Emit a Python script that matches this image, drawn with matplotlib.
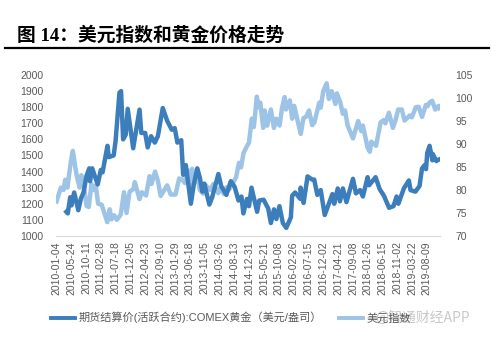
import numpy as np
import matplotlib
matplotlib.use("Agg")
import matplotlib.pyplot as plt
from matplotlib.lines import Line2D

plt.rcParams['font.family'] = ['Liberation Sans', 'Noto Sans CJK SC']

# category labels on the x axis (every 100 trading days)
tick_labels = ['2010-01-04', '2010-05-24', '2010-10-11', '2011-02-28', '2011-07-18',
               '2011-12-05', '2012-04-23', '2012-09-10', '2013-01-29', '2013-06-18',
               '2013-11-05', '2014-03-26', '2014-08-13', '2014-12-31', '2015-05-21',
               '2015-10-08', '2016-02-26', '2016-07-15', '2016-12-02', '2017-04-21',
               '2017-09-08', '2018-01-26', '2018-06-15', '2018-11-02', '2019-03-22',
               '2019-08-09']

gold_dates = ['2010-04-06', '2010-04-20', '2010-05-12', '2010-05-25', '2010-06-18', '2010-07-28',
              '2010-08-20', '2010-09-15', '2010-10-14', '2010-11-09', '2010-11-16', '2010-12-07',
              '2011-01-27', '2011-02-25', '2011-03-15', '2011-04-29', '2011-05-12', '2011-06-28',
              '2011-07-15', '2011-08-22', '2011-09-06', '2011-09-26', '2011-10-20', '2011-11-08',
              '2011-12-29', '2012-02-28', '2012-03-15', '2012-04-20', '2012-05-15', '2012-06-15',
              '2012-07-20', '2012-08-20', '2012-10-04', '2012-11-15', '2012-12-28', '2013-01-25',
              '2013-02-20', '2013-03-28', '2013-04-16', '2013-05-10', '2013-06-27', '2013-07-25',
              '2013-08-27', '2013-09-19', '2013-10-15', '2013-11-01', '2013-12-19', '2014-01-15',
              '2014-03-14', '2014-04-10', '2014-05-29', '2014-07-10', '2014-08-15', '2014-09-20',
              '2014-10-20', '2014-11-06', '2014-12-10', '2014-12-30', '2015-01-22', '2015-03-17',
              '2015-04-06', '2015-05-18', '2015-06-30', '2015-07-24', '2015-08-24', '2015-09-15',
              '2015-10-14', '2015-11-15', '2015-12-17', '2016-01-29', '2016-02-11', '2016-03-10',
              '2016-04-28', '2016-05-02', '2016-05-30', '2016-07-06', '2016-08-18', '2016-09-07',
              '2016-10-06', '2016-11-08', '2016-12-15', '2017-02-27', '2017-03-15', '2017-04-18',
              '2017-05-09', '2017-06-06', '2017-07-10', '2017-09-08', '2017-10-06', '2017-11-15',
              '2017-12-12', '2018-01-25', '2018-02-08', '2018-04-11', '2018-05-21', '2018-06-28',
              '2018-08-16', '2018-09-27', '2018-10-26', '2018-11-13', '2019-01-03', '2019-02-20',
              '2019-03-07', '2019-04-23', '2019-05-31', '2019-06-25', '2019-07-18', '2019-08-01',
              '2019-08-13', '2019-09-04', '2019-10-01', '2019-10-03', '2019-11-07', '2019-11-14',
              '2019-12-03']
gold_values = [1150, 1140, 1240, 1190, 1270, 1160,
               1230, 1270, 1375, 1420, 1340, 1420,
               1320, 1410, 1395, 1560, 1490, 1500,
               1590, 1890, 1900, 1600, 1630, 1790,
               1545, 1785, 1640, 1640, 1550, 1620,
               1580, 1620, 1795, 1715, 1660, 1670,
               1580, 1595, 1380, 1440, 1200, 1320,
               1420, 1365, 1275, 1325, 1195, 1240,
               1385, 1310, 1255, 1340, 1305, 1220,
               1245, 1140, 1230, 1185, 1300, 1150,
               1220, 1225, 1170, 1080, 1165, 1105,
               1185, 1080, 1050, 1115, 1250, 1270,
               1230, 1300, 1205, 1370, 1350, 1350,
               1255, 1285, 1130, 1260, 1200, 1295,
               1215, 1295, 1210, 1355, 1265, 1285,
               1245, 1365, 1315, 1365, 1290, 1250,
               1175, 1185, 1245, 1200, 1295, 1345,
               1285, 1275, 1310, 1420, 1440, 1415,
               1515, 1560, 1470, 1510, 1465, 1470,
               1475]

usd_dates = ['2010-01-04', '2010-01-29', '2010-02-12', '2010-03-10', '2010-03-25', '2010-04-15',
             '2010-05-20', '2010-06-07', '2010-06-25', '2010-07-15', '2010-08-10', '2010-08-25',
             '2010-09-15', '2010-10-14', '2010-11-04', '2010-11-30', '2010-12-20', '2011-01-10',
             '2011-02-01', '2011-03-07', '2011-04-28', '2011-05-20', '2011-06-07', '2011-07-01',
             '2011-07-27', '2011-08-15', '2011-09-02', '2011-10-04', '2011-10-27', '2011-11-25',
             '2011-12-30', '2012-01-13', '2012-02-28', '2012-03-20', '2012-04-30', '2012-06-01',
             '2012-06-20', '2012-07-24', '2012-08-20', '2012-09-14', '2012-10-15', '2012-11-15',
             '2012-12-19', '2013-02-01', '2013-03-08', '2013-04-05', '2013-05-01', '2013-05-29',
             '2013-06-17', '2013-07-09', '2013-07-25', '2013-08-30', '2013-09-19', '2013-10-24',
             '2013-11-07', '2013-12-27', '2014-01-27', '2014-02-25', '2014-03-13', '2014-04-02',
             '2014-05-07', '2014-05-30', '2014-06-25', '2014-07-31', '2014-08-29', '2014-09-25',
             '2014-10-15', '2014-11-07', '2014-12-08', '2014-12-30', '2015-01-26', '2015-02-13',
             '2015-03-13', '2015-04-01', '2015-04-15', '2015-05-13', '2015-05-27', '2015-06-19',
             '2015-07-24', '2015-08-24', '2015-09-15', '2015-10-15', '2015-11-06', '2015-12-02',
             '2015-12-15', '2016-01-20', '2016-02-11', '2016-03-02', '2016-04-12', '2016-05-03',
             '2016-05-27', '2016-06-24', '2016-07-20', '2016-08-18', '2016-09-08', '2016-10-25',
             '2016-11-08', '2016-12-01', '2017-01-03', '2017-01-24', '2017-02-20', '2017-03-27',
             '2017-04-10', '2017-05-12', '2017-06-05', '2017-06-26', '2017-07-20', '2017-09-08',
             '2017-10-27', '2017-11-27', '2017-12-12', '2018-01-25', '2018-02-15', '2018-03-01',
             '2018-04-16', '2018-05-29', '2018-06-27', '2018-07-12', '2018-08-15', '2018-09-21',
             '2018-10-15', '2018-11-12', '2018-12-14', '2019-01-10', '2019-02-28', '2019-03-20',
             '2019-04-26', '2019-05-23', '2019-06-25', '2019-07-31', '2019-08-15', '2019-09-03',
             '2019-09-30', '2019-10-28', '2019-11-28', '2019-12-06']
usd_values = [77.5, 79.5, 80.5, 80.0, 82.2, 80.5,
              86.5, 88.5, 85.5, 82.8, 80.5, 83.2,
              81.5, 76.5, 76.3, 81.3, 80.0, 81.0,
              77.0, 76.8, 73.0, 75.8, 73.6, 74.5,
              73.5, 74.0, 74.7, 79.5, 75.0, 79.6,
              80.2, 81.7, 78.0, 79.5, 78.8, 83.0,
              81.3, 84.0, 82.0, 78.7, 79.8, 81.0,
              79.0, 79.0, 82.5, 82.3, 81.5, 84.3,
              80.5, 84.6, 81.5, 82.5, 80.0, 79.2,
              81.2, 80.0, 81.3, 80.0, 79.3, 80.5,
              79.1, 80.6, 80.1, 81.5, 82.8, 85.9,
              84.9, 88.0, 89.4, 90.3, 95.5, 93.7,
              100.3, 98.0, 99.0, 93.5, 97.3, 94.0,
              97.5, 93.5, 95.5, 94.0, 97.8, 100.2,
              97.5, 99.5, 95.5, 98.3, 94.2, 92.2,
              95.6, 96.0, 97.3, 94.1, 94.7, 99.0,
              97.9, 101.5, 103.2, 99.8, 101.5, 98.7,
              101.0, 99.0, 96.6, 97.3, 94.0, 91.2,
              95.0, 92.8, 94.0, 89.2, 88.3, 90.5,
              89.6, 94.7, 95.2, 94.5, 96.8, 93.5,
              95.0, 97.5, 97.5, 95.1, 96.2, 95.8,
              98.0, 98.1, 95.9, 98.5, 98.2, 99.0,
              99.4, 97.5, 98.3, 97.8]

start = '2010-01-04'
gold_x = np.busday_count(start, np.array(gold_dates, dtype='datetime64[D]'))
usd_x = np.busday_count(start, np.array(usd_dates, dtype='datetime64[D]'))
tick_x = np.busday_count(start, np.array(tick_labels, dtype='datetime64[D]'))

dark = '#3C7DBB'
light = '#9DC3E6'
grey = '#595959'

fig = plt.figure(figsize=(4.91, 3.38), dpi=100)
ax = fig.add_axes([0.114, 0.302, 0.782, 0.476])
ax2 = ax.twinx()

ax.plot(gold_x, gold_values, color=dark, lw=3.2, solid_joinstyle='round', zorder=3)
ax2.plot(usd_x, usd_values, color=light, lw=3.2, solid_joinstyle='round')
ax.set_zorder(ax2.get_zorder() + 1)
ax.patch.set_visible(False)

ax.set_xlim(-4, 2592)
ax.set_ylim(1000, 2000)
ax.set_yticks(np.arange(1000, 2001, 100))
ax2.set_ylim(70, 105)
ax2.set_yticks(np.arange(70, 106, 5))
ax.set_xticks(tick_x)
ax.set_xticklabels(tick_labels, rotation=90, fontsize=7.5, color=grey)

for a in (ax, ax2):
    for s in a.spines.values():
        s.set_visible(False)
    a.tick_params(length=0, labelsize=7.5, labelcolor=grey)
ax.spines['bottom'].set_visible(True)
ax.spines['bottom'].set_color('#D9D9D9')
ax.tick_params(axis='y', pad=9)
ax2.tick_params(axis='y', pad=11)
ax.tick_params(axis='x', pad=4)

fig.text(0.035, 0.895, '图 14：美元指数和黄金价格走势', fontsize=13.5, fontweight='bold',
         family=['Liberation Serif', 'Noto Sans CJK SC'], va='center')
fig.add_artist(Line2D([0.01, 0.995], [0.858, 0.858], color='black', lw=1.6))

handles = [Line2D([], [], color=dark, lw=2.8), Line2D([], [], color=light, lw=2.8)]
fig.legend(handles, ['期货结算价(活跃合约):COMEX黄金（美元/盎司）', '美元指数'],
           loc='center', bbox_to_anchor=(0.47, 0.06), ncol=2, frameon=False,
           fontsize=8, handlelength=2.2, columnspacing=1.5, handletextpad=0.3,
           labelcolor=grey)

fig.text(0.765, 0.06, '@智通财经APP', fontsize=10, color='#BBBBBB', alpha=0.8,
         family=['Noto Sans CJK SC', 'DejaVu Sans'], va='center')

fig.savefig('out.png', dpi=100)
